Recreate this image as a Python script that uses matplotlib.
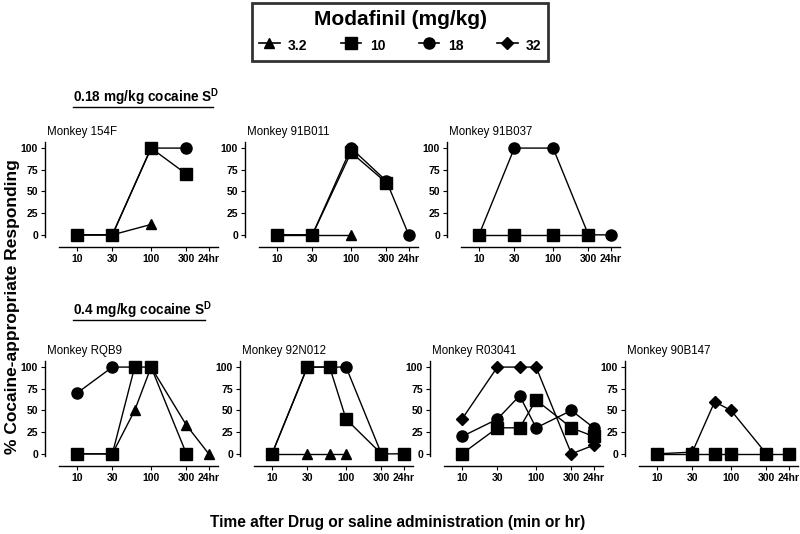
import numpy as np
import matplotlib
matplotlib.use("Agg")
import matplotlib.pyplot as plt
from matplotlib.lines import Line2D

plt.rcParams['font.family'] = ['Liberation Sans', 'DejaVu Sans']
plt.rcParams['mathtext.fontset'] = 'custom'
plt.rcParams['mathtext.rm'] = 'Liberation Sans'
plt.rcParams['mathtext.bf'] = 'Liberation Sans:bold'

# time points (min); 24hr drawn at position 600 on the log axis
H24 = 600
xticks = [10, 30, 100, 300, H24]
xticklabels = ["10", "30", "100", "300", "24hr"]

doses = ["3.2", "10", "18", "32"]
markers = {"3.2": "^", "10": "s", "18": "o", "32": "D"}
msizes = {"3.2": 7.5, "10": 8, "18": 8, "32": 6}

# each panel: dose -> (times, % cocaine-appropriate responding)
m154F = {
   "3.2": ([10, 30, 100], [0, 0, 12]),
   "18": ([10, 30, 100, 300], [0, 0, 100, 100]),
   "10": ([10, 30, 100, 300], [0, 0, 100, 70]),
}
m91B011 = {
   "3.2": ([10, 30, 100], [0, 0, 0]),
   "18": ([10, 30, 100, 300, H24], [0, 0, 100, 62, 0]),
   "10": ([10, 30, 100, 300], [0, 0, 95, 60]),
}
m91B037 = {
   "18": ([10, 30, 100, 300, H24], [0, 100, 100, 0, 0]),
   "10": ([10, 30, 100, 300], [0, 0, 0, 0]),
}
mRQB9 = {
   "18": ([10, 30, 60], [70, 100, 100]),
   "3.2": ([10, 30, 60, 100, 300, H24], [0, 0, 50, 100, 33, 0]),
   "10": ([10, 30, 60, 100, 300], [0, 0, 100, 100, 0]),
}
m92N012 = {
   "3.2": ([10, 30, 60, 100], [0, 0, 0, 0]),
   "18": ([10, 30, 60, 100, 300], [0, 100, 100, 100, 0]),
   "10": ([10, 30, 60, 100, 300, H24], [0, 100, 100, 40, 0, 0]),
}
mR03041 = {
   "32": ([10, 30, 60, 100, 300, H24], [40, 100, 100, 100, 0, 10]),
   "18": ([10, 30, 60, 100, 300, H24], [20, 40, 67, 30, 50, 30]),
   "10": ([10, 30, 60, 100, 300, H24], [0, 30, 30, 62, 30, 20]),
}
m90B147 = {
   "32": ([10, 30, 60, 100, 300], [0, 2, 60, 50, 0]),
   "10": ([10, 30, 60, 100, 300, H24], [0, 0, 0, 0, 0, 0]),
}

panels = [
   ("Monkey 154F", m154F, 45, 247),
   ("Monkey 91B011", m91B011, 245, 247),
   ("Monkey 91B037", m91B037, 447, 247),
   ("Monkey RQB9", mRQB9, 45, 466),
   ("Monkey 92N012", m92N012, 240, 466),
   ("Monkey R03041", mR03041, 430, 466),
   ("Monkey 90B147", m90B147, 625, 466),
]

W, H = 800, 534
fig = plt.figure(figsize=(8, 5.34), dpi=100)

for title, data, left, bottom in panels:
   ax = fig.add_axes([left / W, (H - bottom) / H, 173 / W, 105 / H])
   ax.set_xscale("log")
   ax.set_xlim(3.7, 800)
   ax.set_ylim(-14, 107)
   for d in doses:
      if d in data:
         t, v = data[d]
         ax.plot(t, v, color="black", lw=1.0, marker=markers[d],
                 ms=msizes[d], mfc="black", mec="black", clip_on=False)
   ax.spines["top"].set_visible(False)
   ax.spines["right"].set_visible(False)
   ax.spines["left"].set_bounds(-2, 107)
   ax.spines["bottom"].set_bounds(5.7, 800)
   ax.spines["left"].set_linewidth(1)
   ax.spines["bottom"].set_linewidth(1)
   ax.set_yticks([0, 25, 50, 75, 100])
   ax.set_xticks(xticks)
   ax.set_xticklabels(xticklabels)
   ax.xaxis.set_minor_locator(matplotlib.ticker.NullLocator())
   ax.tick_params(axis="both", labelsize=7.5, length=3, width=0.8, pad=2)
   for lab in ax.get_xticklabels() + ax.get_yticklabels():
      lab.set_fontweight("bold")
   ax.text(0.01, 1.04, title, transform=ax.transAxes, fontsize=8.3,
           ha="left", va="bottom")

# section headings, underlined
heads = [("0.18 mg/kg cocaine S$^\\mathbf{D}$", 73, 97),
         ("0.4 mg/kg cocaine S$^\\mathbf{D}$", 73, 310)]
htexts = []
for s, x, y in heads:
   htexts.append(fig.text(x / W, (H - y) / H, s, fontsize=9.8,
                          fontweight="bold", ha="left", va="center"))

fig.text(13 / W, (H - 307) / H, "% Cocaine-appropriate Responding",
         rotation=90, fontsize=12.5, fontweight="bold", ha="center", va="center")
fig.text(398 / W, (H - 522) / H,
         "Time after Drug or saline administration (min or hr)",
         fontsize=11.2, fontweight="bold", ha="center", va="center")

handles = [Line2D([0], [0], color="black", lw=1.2, marker=markers[d],
                  ms=msizes[d], mfc="black", mec="black") for d in doses]
leg = fig.legend(handles, doses, loc="center", bbox_to_anchor=(400 / W, (H - 32) / H),
                 ncol=4, frameon=True, fancybox=False, edgecolor="black",
                 title="Modafinil (mg/kg)", handlelength=1.5, columnspacing=2.4,
                 handletextpad=0.6, handleheight=1.6,
                 prop={"weight": "bold", "size": 10}, borderpad=0.5)
leg.get_title().set_fontsize(15)
leg.get_title().set_fontweight("bold")
leg.get_frame().set_linewidth(2)

fig.canvas.draw()
r = fig.canvas.get_renderer()
for t in htexts:
   bb = t.get_window_extent(r).transformed(fig.transFigure.inverted())
   fig.add_artist(Line2D([bb.x0, bb.x1 - 0.008], [bb.y0 + 0.002, bb.y0 + 0.002],
                         color="black", lw=1, transform=fig.transFigure))

fig.savefig("out.png", dpi=100, facecolor="white")
